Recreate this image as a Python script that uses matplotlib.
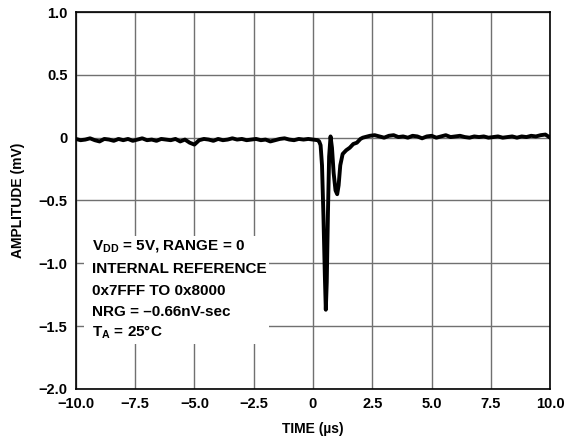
import numpy as np
import matplotlib.pyplot as plt
from matplotlib.patches import Rectangle

plt.rcParams['font.family'] = ['Liberation Sans', 'DejaVu Sans']
plt.rcParams['font.weight'] = 'bold'
plt.rcParams['mathtext.fontset'] = 'custom'
plt.rcParams['mathtext.rm'] = 'Liberation Sans:bold'
plt.rcParams['mathtext.bf'] = 'Liberation Sans:bold'

# --- data (time in us, amplitude in mV) ---
pre_t = np.arange(-10.0, 0.21, 0.2)
pre_v = [-0.010, -0.020, -0.015, -0.005, -0.020, -0.030, -0.010, -0.015, -0.025, -0.010,
         -0.020, -0.010, -0.025, -0.015, -0.005, -0.020, -0.015, -0.025, -0.010, -0.015,
         -0.020, -0.010, -0.030, -0.015, -0.040, -0.055, -0.020, -0.010, -0.015, -0.025,
         -0.010, -0.020, -0.015, -0.005, -0.015, -0.010, -0.020, -0.015, -0.010, -0.020,
         -0.015, -0.030, -0.020, -0.010, -0.005, -0.015, -0.020, -0.010, -0.015, -0.010,
         -0.015, -0.020]

glitch_t = [0.26, 0.32, 0.38, 0.44, 0.50, 0.54, 0.58, 0.63, 0.68, 0.74,
            0.80, 0.87, 0.95, 1.02, 1.08, 1.15, 1.25, 1.40, 1.55, 1.70,
            1.85, 2.00, 2.10]
glitch_v = [-0.03, -0.06, -0.22, -0.62, -1.10, -1.37, -1.15, -0.60, -0.15, 0.01,
            -0.08, -0.28, -0.42, -0.45, -0.38, -0.22, -0.13, -0.10, -0.08, -0.05,
            -0.04, -0.01, 0.00]

post_t = np.arange(2.2, 10.01, 0.2)
post_v = [0.005, 0.015, 0.020, 0.010, 0.000, 0.015, 0.020, 0.005, 0.010, 0.000,
          0.015, 0.010, -0.005, 0.010, 0.015, 0.000, 0.010, 0.020, 0.005, 0.010,
          0.015, 0.005, 0.000, 0.010, 0.005, 0.010, 0.000, 0.005, 0.010, 0.000,
          0.005, 0.010, 0.000, 0.010, 0.005, 0.015, 0.010, 0.020, 0.025, 0.000]

t = np.concatenate([pre_t, glitch_t, post_t])
v = np.concatenate([pre_v, glitch_v, post_v])

x_ticks = [-10.0, -7.5, -5.0, -2.5, 0, 2.5, 5.0, 7.5, 10.0]
x_labels = ['\u221210.0', '\u22127.5', '\u22125.0', '\u22122.5', '0', '2.5', '5.0', '7.5', '10.0']
y_ticks = [1.0, 0.5, 0, -0.5, -1.0, -1.5, -2.0]
y_labels = ['1.0', '0.5', '0', '\u22120.5', '\u22121.0', '\u22121.5', '\u22122.0']

notes = ['V$_{\\mathrm{DD}}$ = 5V, RANGE = 0',
         'INTERNAL REFERENCE',
         '0x7FFF TO 0x8000',
         'NRG = \u20130.66nV-sec',
         'T$_{\\mathrm{A}}$ = 25\u00b0C']

# --- plot ---
fig = plt.figure(figsize=(5.66, 4.48), dpi=100)
ax = fig.add_axes([0.134, 0.132, 0.838, 0.841])

ax.plot(t, v, color='black', linewidth=2.8, solid_joinstyle='round', zorder=3)

ax.set_xlim(-10, 10)
ax.set_ylim(-2.0, 1.0)
ax.set_xticks(x_ticks)
ax.set_xticklabels(x_labels)
ax.set_yticks(y_ticks)
ax.set_yticklabels(y_labels)
ax.tick_params(length=0, labelsize=10.5, pad=6)
for lbl in ax.get_xticklabels() + ax.get_yticklabels():
    lbl.set_fontweight('bold')
ax.grid(True, color='#707070', linewidth=1.0)
ax.set_axisbelow(True)
for s in ax.spines.values():
    s.set_linewidth(1.2)

ax.set_xlabel('TIME (\u00b5s)', fontsize=10, fontweight='bold', labelpad=8)
ax.set_ylabel('AMPLITUDE (mV)', fontsize=10, fontweight='bold', labelpad=10)

# white box behind the notes
ax.add_patch(Rectangle((0.017, 0.119), 0.39, 0.287, transform=ax.transAxes,
                       facecolor='white', edgecolor='none', zorder=2))
ys = [0.377, 0.318, 0.260, 0.204, 0.151]
for txt, yy in zip(notes, ys):
    ax.text(0.034, yy, txt, transform=ax.transAxes, fontsize=11,
            fontweight='bold', va='center', ha='left', zorder=4)

fig.savefig('out.png', dpi=100)
